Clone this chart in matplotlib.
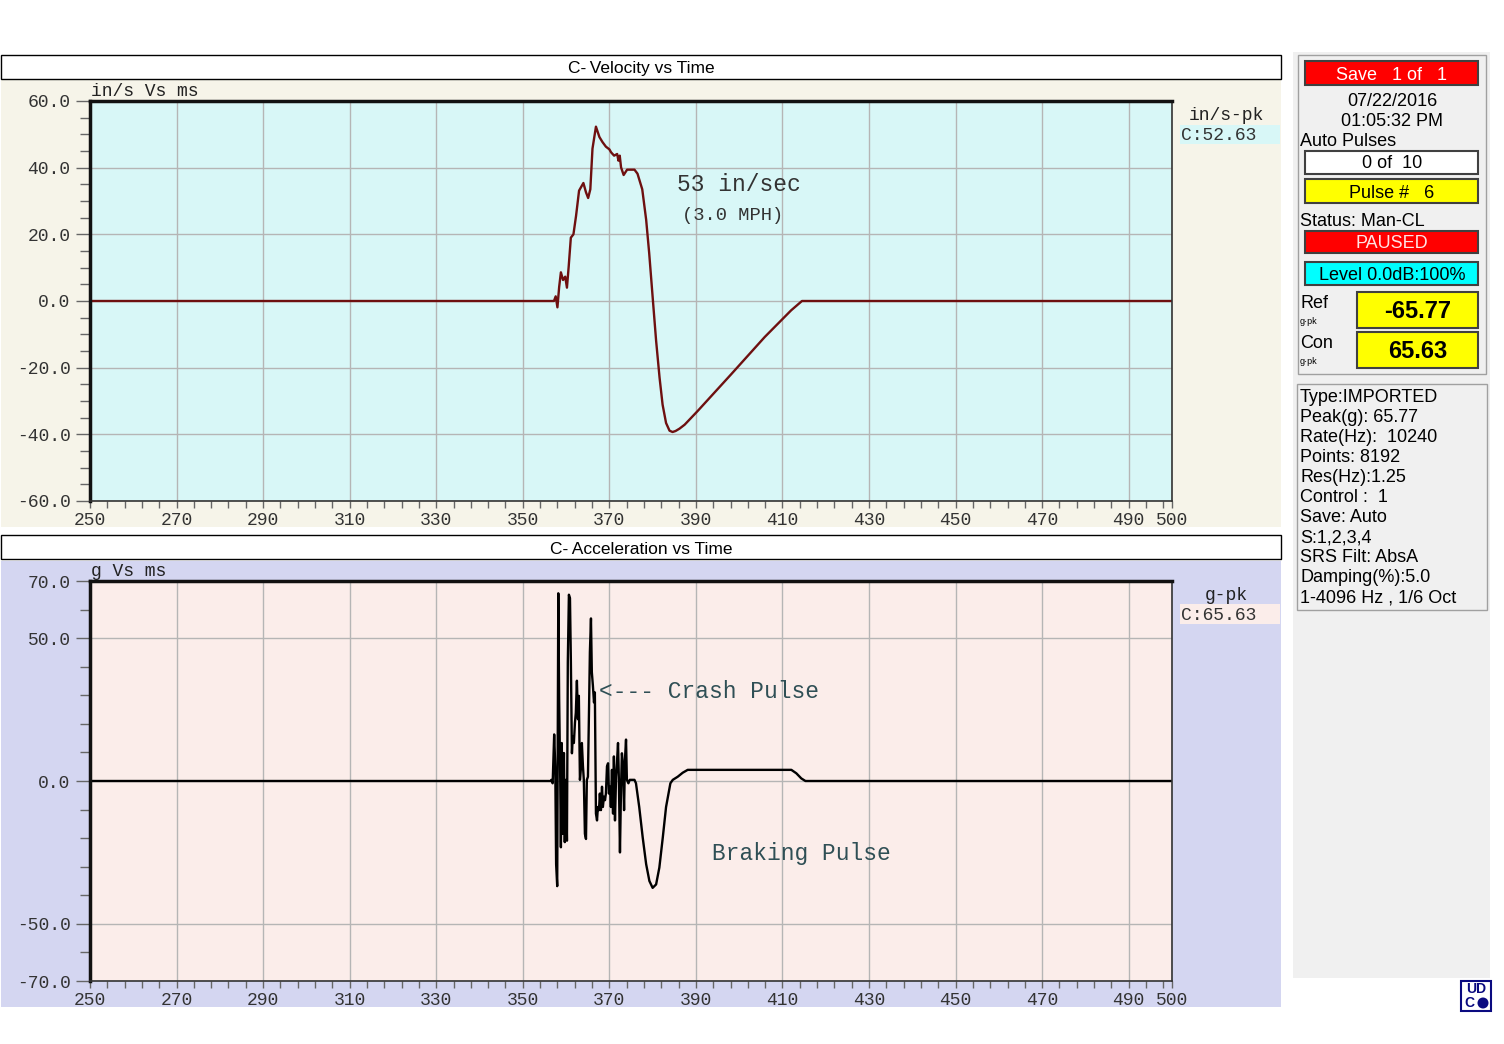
import numpy as np
import matplotlib
matplotlib.use("Agg")
import matplotlib.pyplot as plt
from matplotlib.patches import Rectangle, Circle
from matplotlib.ticker import FixedLocator, MultipleLocator

W, H = 1504, 1044
MONO = "Liberation Mono"
SANS = "Liberation Sans"

# velocity trace, ms vs in/s
vel_t = [250.0, 357.2, 357.6, 358.0, 358.4, 358.8, 359.3, 359.8, 360.2, 360.6,
         361.1, 361.7, 362.3, 363.0, 364.0, 364.6, 365.1, 365.6, 366.1, 366.9,
         367.7, 368.4, 369.2, 370.0, 370.4, 371.1, 371.8, 372.1, 372.4, 372.7,
         373.3, 374.1, 375.8, 376.5, 377.6, 378.5, 379.2, 380.0, 380.8, 381.6,
         382.3, 383.1, 383.9, 384.6, 385.3, 386.2, 387.4, 390.4, 398.2, 405.9,
         412.0, 414.5, 500.0]
vel_v = [0.0, 0.0, 1.4, -1.9, 4.2, 8.6, 6.3, 7.3, 4.0, 10.3,
         19.0, 20.0, 25.5, 33.1, 35.4, 32.6, 30.9, 33.5, 45.7, 52.3,
         49.2, 47.7, 46.3, 45.5, 44.6, 43.6, 44.1, 42.1, 43.6, 40.1,
         37.8, 39.4, 39.4, 38.2, 33.5, 24.4, 14.4, 1.2, -11.9, -23.0,
         -31.1, -36.6, -38.9, -39.3, -39.0, -38.3, -37.1, -33.0, -21.9, -10.8,
         -2.8, 0.0, 0.0]

# acceleration trace, ms vs g
acc_t = [250.0, 356.5, 356.6, 356.9, 357.25, 357.5, 357.7, 357.95, 358.2, 358.4,
         358.65, 358.8, 359.0, 359.25, 359.5, 359.7, 359.95, 360.2, 360.4, 360.65,
         360.9, 361.1, 361.35, 361.55, 361.8, 362.05, 362.25, 362.5, 362.75, 362.95,
         363.2, 363.4, 363.65, 363.9, 364.1, 364.35, 364.6, 364.8, 365.05, 365.3,
         365.5, 365.75, 365.95, 366.2, 366.45, 366.65, 366.9, 367.15, 367.35, 367.6,
         367.8, 368.05, 368.3, 368.5, 368.75, 369.0, 369.2, 369.45, 369.7, 369.9,
         370.15, 370.35, 370.6, 370.85, 371.05, 371.3, 371.55, 371.75, 372.0, 372.2,
         372.45, 372.7, 372.9, 373.15, 373.4, 373.6, 373.85, 374.05, 374.4, 374.7,
         375.8, 376.15, 376.9, 377.7, 378.5, 379.25, 380.0, 380.8, 381.55, 382.35,
         383.1, 384.1, 384.65, 385.8, 386.95, 388.1, 412.05, 413.2, 414.35, 415.3,
         500.0]
acc_g = [0.0, 0.0, 0.4, -0.8, 16.3, 5.1, -29.1, -36.8, 65.7, 28.6,
         0.4, -23.2, 13.3, -18.5, 9.8, -21.4, 0.4, -20.9, 41.6, 65.2,
         64.0, 42.8, 9.7, 15.7, 13.3, 20.4, 23.9, 35.1, 21.6, 29.8,
         0.4, 3.9, 13.3, 5.1, 0.4, -18.5, -20.3, 0.4, 1.5, 25.1,
         45.1, 56.9, 38.1, 33.3, 27.5, 31.0, -11.4, -13.8, -9.1, -10.2,
         -4.4, -10.2, -2.0, -9.1, -5.5, -6.7, -4.4, 5.1, 6.2, -4.4,
         -2.0, -9.1, 3.9, -11.4, 8.6, -13.8, 1.5, 6.2, 13.3, 0.4,
         -25.0, -2.0, 9.7, 5.1, -10.2, 7.4, 14.5, 0.4, -0.8, 0.4,
         0.4, -0.8, -9.1, -19.7, -29.1, -35.0, -37.4, -36.2, -30.3, -19.7,
         -9.1, -0.8, 0.4, 1.5, 2.9, 3.9, 3.9, 2.7, 0.9, 0.0,
         0.0]

x_ticks = [250, 270, 290, 310, 330, 350, 370, 390, 410, 430, 450, 470, 490, 500]
vel_ticks = [60, 40, 20, 0, -20, -40, -60]
acc_ticks = [70, 50, 0, -50, -70]

info_lines = ["Type:IMPORTED", "Peak(g): 65.77", "Rate(Hz):  10240", "Points: 8192",
              "Res(Hz):1.25", "Control :  1", "Save: Auto", "S:1,2,3,4",
              "SRS Filt: AbsA", "Damping(%):5.0", "1-4096 Hz , 1/6 Oct"]


def px_box(x0, y0, x1, y1):
    return [x0 / W, 1 - y1 / H, (x1 - x0) / W, (y1 - y0) / H]


fig = plt.figure(figsize=(W / 100, H / 100), dpi=100)
bg = fig.add_axes([0, 0, 1, 1], zorder=0)
bg.set_xlim(0, W)
bg.set_ylim(H, 0)
bg.axis("off")


def rect(x0, y0, x1, y1, fc, ec="none", lw=1.0):
    bg.add_patch(Rectangle((x0, y0), x1 - x0, y1 - y0, fc=fc, ec=ec, lw=lw))


def label(x, y, s, **kw):
    kw.setdefault("family", SANS)
    kw.setdefault("size", 13)
    kw.setdefault("color", "black")
    kw.setdefault("va", "center")
    bg.text(x, y + 2, s, **kw)


# chart panels
rect(1, 80, 1281, 527, "#f6f4e9")
rect(1, 561, 1281, 1007, "#d4d6f1")
for y0, title in [(55, "C-\u2009Velocity vs Time"), (535, "C-\u2009Acceleration vs Time")]:
    rect(1, y0, 1281, y0 + 24, "white", "black", 1.0)
    label(641, y0 + 12, title, ha="center", size=12.5, family=[SANS, "DejaVu Sans"])

rect(1180, 125, 1280, 144, "#d8f7f7")
label(1226, 113, "in/s-pk", family=MONO, ha="center", color="#222")
label(1181, 134, "C:52.63", family=MONO, color="#333")
rect(1180, 604, 1280, 624, "#fbedea")
label(1226, 593, "g-pk", family=MONO, ha="center", color="#222")
label(1181, 614, "C:65.63", family=MONO, color="#333")
label(91, 90, "in/s Vs ms", family=MONO, color="#222")
label(91, 570, "g Vs ms", family=MONO, color="#222")


def make_axes(top, face, ylim, yticks, yminor):
    ax = fig.add_axes(px_box(90, top, 1172, top + 400), zorder=1)
    ax.set_facecolor(face)
    ax.set_xlim(250, 500)
    ax.set_ylim(*ylim)
    ax.set_xticks(x_ticks)
    ax.set_xticklabels([str(v) for v in x_ticks])
    ax.set_yticks(yticks)
    ax.set_yticklabels([f"{v:.1f}" for v in yticks])
    ax.xaxis.set_minor_locator(FixedLocator(np.arange(250, 501, 4)))
    ax.yaxis.set_minor_locator(MultipleLocator(yminor))
    ax.grid(True, which="major", color="#b5b5b5", lw=1.0)
    ax.set_axisbelow(True)
    for side in ["top", "left"]:
        ax.spines[side].set_linewidth(2.5)
        ax.spines[side].set_color("#111")
    for side in ["right", "bottom"]:
        ax.spines[side].set_linewidth(1.2)
        ax.spines[side].set_color("#333")
    ax.tick_params(axis="y", which="major", length=10, width=1, color="#666", pad=4)
    ax.tick_params(axis="y", which="minor", length=7, width=1, color="#666")
    ax.tick_params(axis="x", which="both", length=5, width=1, color="#666", pad=3)
    for t in ax.get_xticklabels() + ax.get_yticklabels():
        t.set_fontfamily(MONO)
        t.set_fontsize(13)
        t.set_color("#333")
    for t in ax.get_yticklabels():
        t.set_verticalalignment("center_baseline")
    return ax


ax1 = make_axes(101, "#d8f7f7", (-60, 60), vel_ticks, 5)
ax1.plot(vel_t, vel_v, color="#6e1010", lw=1.7)
ax1.text(385.6, 35.0, "53 in/sec", family=MONO, size=16.5, color="#333", va="center")
ax1.text(386.8, 25.5, "(3.0 MPH)", family=MONO, size=13.5, color="#333", va="center")

ax2 = make_axes(581, "#fbedea", (-70, 70), acc_ticks, 10)
ax2.plot(acc_t, acc_g, color="black", lw=1.7)
ax2.text(367.6, 31.2, "<--- Crash Pulse", family=MONO, size=16.5, color="#2f4f55", va="center")
ax2.text(393.8, -25.3, "Braking Pulse", family=MONO, size=16.5, color="#2f4f55", va="center")

# status panel on the right
rect(1293, 52, 1490, 978, "#f0f0f0")
rect(1298, 55, 1486, 374, "none", "#a0a0a0", 1.0)
rect(1297, 384, 1487, 610, "none", "#a0a0a0", 1.0)

rect(1305, 61, 1478, 85, "#ff0000", "#404040", 1.5)
label(1392, 73, "Save   1 of   1", ha="center", color="white")
label(1392, 100, "07/22/2016", ha="center")
label(1392, 120, "01:05:32 PM", ha="center")
label(1300, 140, "Auto Pulses")
rect(1305, 151, 1478, 174, "white", "#404040", 1.5)
label(1392, 162, "0 of  10", ha="center")
rect(1305, 179, 1478, 203, "#ffff00", "#404040", 1.5)
label(1392, 191, "Pulse #   6", ha="center")
label(1300, 220, "Status: Man-CL")
rect(1305, 231, 1478, 253, "#ff0000", "#404040", 1.5)
label(1392, 242, "PAUSED", ha="center", color="#ffe4e4")
rect(1305, 262, 1478, 285, "#00ffff", "#404040", 1.5)
label(1392, 273, "Level 0.0dB:100%", ha="center")

for y0, name, value in [(292, "Ref", "-65.77"), (332, "Con", "65.63")]:
    label(1300, y0 + 10, name)
    label(1300, y0 + 27, "g\u00b7pk", size=6.5)
    rect(1357, y0, 1478, y0 + 36, "#ffff00", "#404040", 1.5)
    label(1418, y0 + 18, value, ha="center", size=17, weight="bold")

for i, line in enumerate(info_lines):
    label(1300, 396 + 20 * i, line)

# logo
rect(1461, 981, 1491, 1011, "white", "#0a0a80", 1.5)
label(1476, 987, "UD", ha="center", size=10, weight="bold", color="#0a0a80")
label(1469, 1001, "C", ha="center", size=10, weight="bold", color="#0a0a80")
bg.add_patch(Circle((1483, 1003), 5.5, fc="#0a0a80", ec="none"))

fig.savefig("out.png", dpi=100)
